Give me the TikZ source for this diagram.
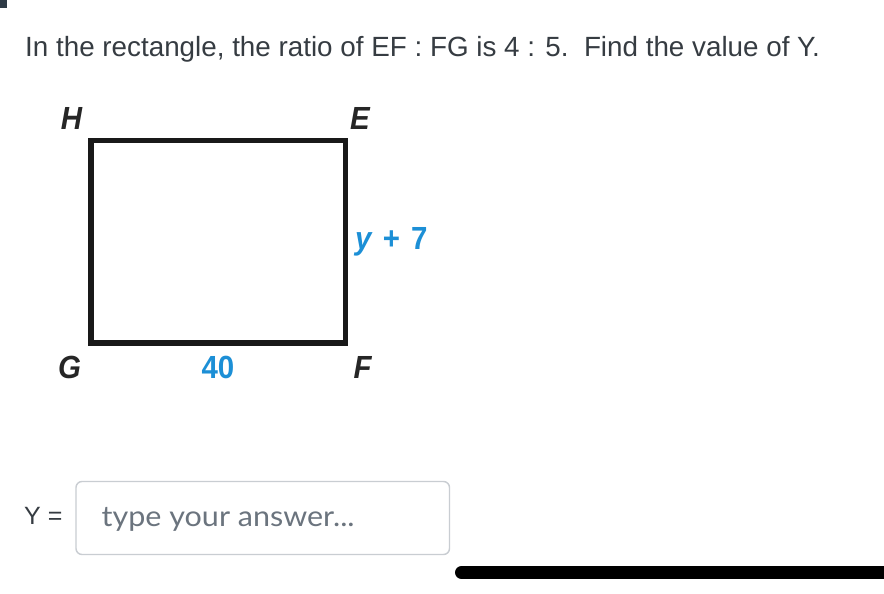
\documentclass[tikz,border=0pt]{standalone}
\usepackage{fontspec}
\setmainfont{Liberation Sans}
\newfontfamily\latofont[FakeStretch=1.07]{Lato}
\newfontfamily\condfont[FakeStretch=0.92]{Liberation Sans}
\definecolor{txt}{HTML}{363C42}
\definecolor{blu}{HTML}{1C8FD6}
\definecolor{boxline}{HTML}{C9CDD2}
\definecolor{hint}{HTML}{6B747E}
\definecolor{corner}{HTML}{2E3B46}
\tikzset{
  vlabel/.style={font=\condfont\bfseries\itshape\fontsize{32}{32}\selectfont, text=black!85, inner sep=0pt},
  mlabel/.style={font=\condfont\bfseries\fontsize{32}{32}\selectfont, text=blu, inner sep=0pt},
  side/.style={line width=5.5pt, black!90},
}
\begin{document}
\begin{tikzpicture}[x=1pt,y=-1pt]
\useasboundingbox (0,0) rectangle (884,594);
\fill[white] (0,0) rectangle (884,594);
\fill[corner] (0,0) rectangle (7,8);
\node[anchor=base west, inner sep=0pt, text=txt, font=\fontsize{27.8}{27.8}\selectfont] (title) at (25,57)
  {In the rectangle, the ratio of EF : FG is 4 : 5.\ \ Find the value of Y.};
% rectangle corners
\coordinate (cH) at (91.2,140.5);
\coordinate (cE) at (345.5,140.5);
\coordinate (cF) at (345.5,343);
\coordinate (cG) at (91.2,343);
\draw[side] (cH) -- (cE) -- (cF) -- (cG) -- cycle;
\node[vlabel] (H) at (71.5,118.5) {H};
\node[vlabel] (E) at (360,118.5) {E};
\node[vlabel] (G) at (69.5,367.5) {G};
\node[vlabel] (F) at (362.5,367.5) {F};
\node[mlabel] (forty) at (218,367.5) {40};
\node[mlabel, anchor=west] (ylab) at (355,241.5) {\itshape y\upshape\hspace{0.35em}+\hspace{0.35em}7};
% answer line
\node[anchor=west, inner sep=0pt, text=txt, font=\fontsize{25}{25}\selectfont] (Yeq) at (24,516) {Y =};
\draw[boxline, line width=1.4pt, rounded corners=6pt] (76,481.5) rectangle (449.5,554.5);
\node[anchor=west, inner sep=0pt, text=hint, font=\latofont\fontsize{28.5}{28.5}\selectfont] (hinttext) at (101.5,519) {type your answer...};
\draw[line width=13pt, line cap=round, black] (461.5,572.5) -- (900,572.5);
\end{tikzpicture}
\end{document}
